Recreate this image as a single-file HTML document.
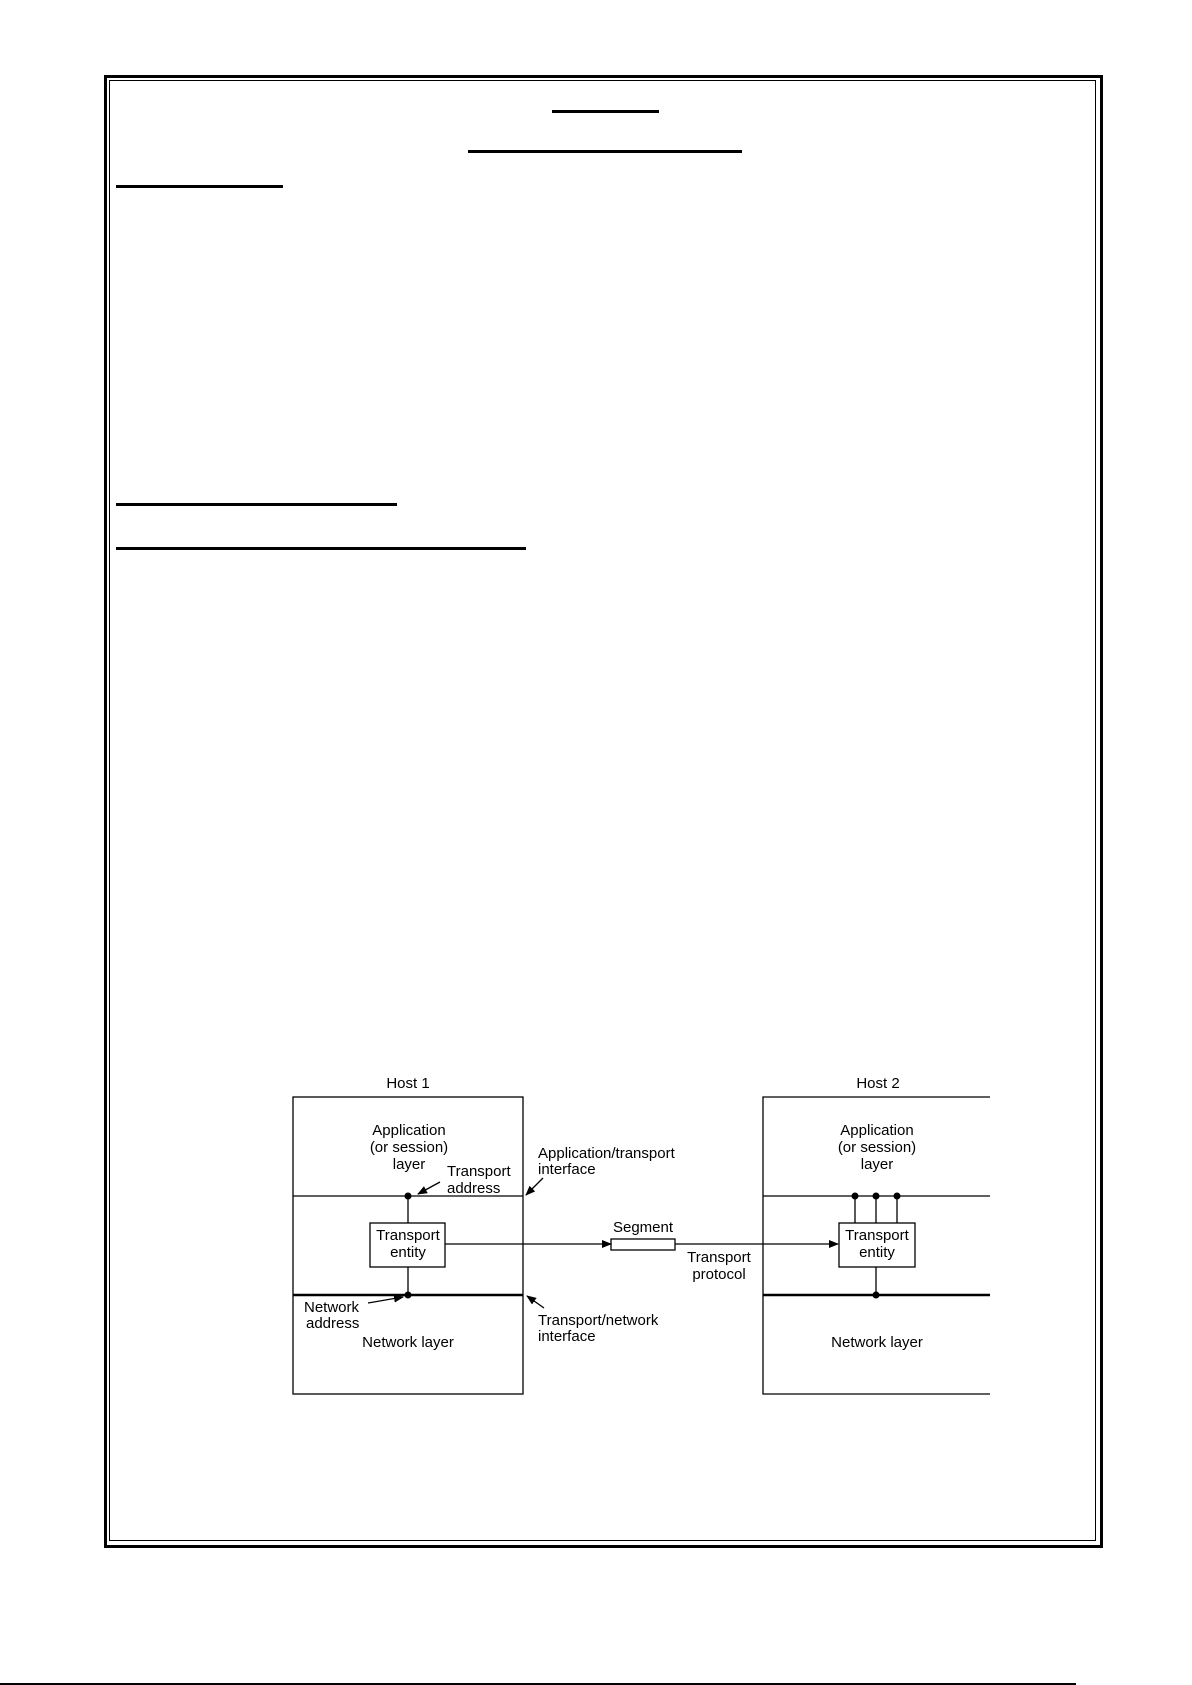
<!DOCTYPE html>
<html><head><style>
html,body{margin:0;padding:0;background:#fff;}
body{width:1192px;height:1685px;position:relative;overflow:hidden;font-family:"Liberation Sans",sans-serif;}
.u{position:absolute;background:#000;height:3px;}
</style></head><body>
<div style="position:absolute;left:104px;top:75px;width:993px;height:1467px;border:3px solid #000;"></div>
<div style="position:absolute;left:109px;top:80px;width:985px;height:1459px;border:1px solid #000;"></div>
<div class="u" style="left:552px;top:110px;width:107px;"></div>
<div class="u" style="left:468px;top:150px;width:274px;"></div>
<div class="u" style="left:116px;top:185px;width:167px;"></div>
<div class="u" style="left:116px;top:503px;width:281px;"></div>
<div class="u" style="left:116px;top:547px;width:410px;"></div>
<div style="position:absolute;left:0;top:1683px;width:1076px;height:2px;background:#000;"></div>
<svg width="1192" height="1685" style="position:absolute;left:0;top:0" font-family="Liberation Sans, sans-serif" font-size="15">
<defs><marker id="a" markerWidth="10" markerHeight="8" refX="9" refY="4" orient="auto" markerUnits="userSpaceOnUse"><path d="M0,0 L10,4 L0,8 z" fill="#000"/></marker></defs>
<g stroke="#000" fill="none" stroke-width="1.3">
<rect x="293" y="1097" width="230" height="297"/>
<line x1="293" y1="1196" x2="523" y2="1196"/>
<line x1="293" y1="1295" x2="523" y2="1295" stroke-width="2.5"/>
<rect x="370" y="1223" width="75" height="44"/>
<line x1="408" y1="1196" x2="408" y2="1223"/>
<line x1="408" y1="1267" x2="408" y2="1295"/>
<path d="M990,1097 H763 V1394 H990"/>
<line x1="763" y1="1196" x2="990" y2="1196"/>
<line x1="763" y1="1295" x2="990" y2="1295" stroke-width="2.5"/>
<rect x="839" y="1223" width="76" height="44"/>
<line x1="855" y1="1196" x2="855" y2="1223"/>
<line x1="876" y1="1196" x2="876" y2="1223"/>
<line x1="897" y1="1196" x2="897" y2="1223"/>
<line x1="876" y1="1267" x2="876" y2="1295"/>
<line x1="445" y1="1244" x2="611" y2="1244" marker-end="url(#a)"/>
<rect x="611" y="1239" width="64" height="11"/>
<line x1="675" y1="1244" x2="838" y2="1244" marker-end="url(#a)"/>
<line x1="440" y1="1182" x2="418" y2="1194" marker-end="url(#a)"/>
<line x1="543" y1="1178" x2="526" y2="1195" marker-end="url(#a)"/>
<line x1="368" y1="1303" x2="403" y2="1297" marker-end="url(#a)"/>
<line x1="544" y1="1308" x2="527" y2="1296" marker-end="url(#a)"/>
</g>
<g fill="#000">
<circle cx="408" cy="1196" r="3.5"/><circle cx="408" cy="1295" r="3.5"/>
<circle cx="855" cy="1196" r="3.5"/><circle cx="876" cy="1196" r="3.5"/><circle cx="897" cy="1196" r="3.5"/><circle cx="876" cy="1295" r="3.5"/>
</g>
<g fill="#000" text-anchor="middle">
<text x="408" y="1088">Host 1</text><text x="878" y="1088">Host 2</text>
<text x="409" y="1135">Application</text><text x="409" y="1152">(or session)</text><text x="409" y="1169">layer</text>
<text x="877" y="1135">Application</text><text x="877" y="1152">(or session)</text><text x="877" y="1169">layer</text>
<text x="408" y="1240">Transport</text><text x="408" y="1257">entity</text>
<text x="877" y="1240">Transport</text><text x="877" y="1257">entity</text>
<text x="643" y="1232">Segment</text>
<text x="719" y="1262">Transport</text><text x="719" y="1279">protocol</text>
<text x="408" y="1347">Network layer</text><text x="877" y="1347">Network layer</text>
</g>
<g fill="#000">
<text x="447" y="1176">Transport</text><text x="447" y="1193">address</text>
<text x="538" y="1158">Application/transport</text><text x="538" y="1174">interface</text>
<text x="304" y="1312">Network</text><text x="306" y="1328">address</text>
<text x="538" y="1325">Transport/network</text><text x="538" y="1341">interface</text>
</g>
</svg>
</body></html>
